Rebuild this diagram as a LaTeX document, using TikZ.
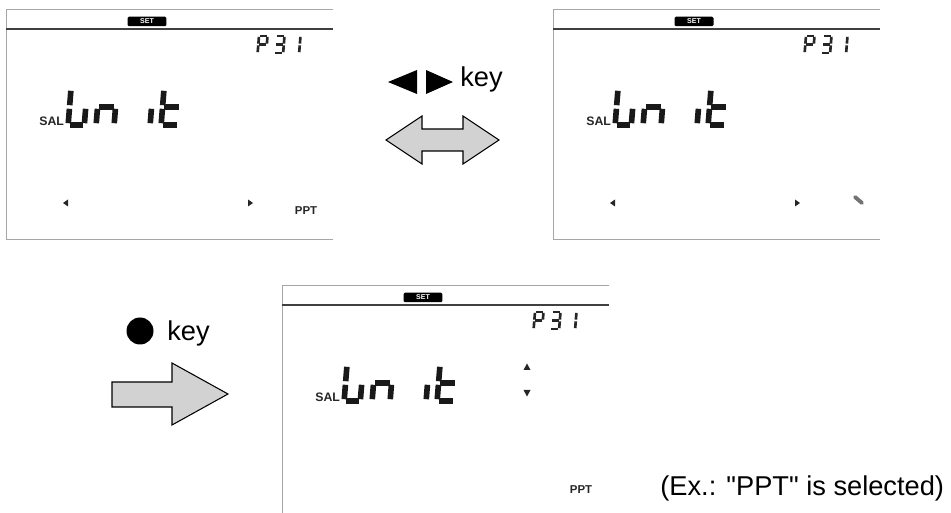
\documentclass[tikz,border=0pt]{standalone}
\usepackage{fontspec}
\setmainfont{Liberation Sans}
\usetikzlibrary{positioning}

% segments of one LCD digit, cell 10 x 20, y running down
\def\lcdSa{(1,0) -- (9,0)}
\def\lcdSb{(10,1) -- (10,9)}
\def\lcdSc{(10,11) -- (10,19)}
\def\lcdSd{(1,20) -- (9,20)}
\def\lcdSe{(0,11) -- (0,19)}
\def\lcdSf{(0,1) -- (0,9)}
\def\lcdSg{(1,10) -- (9,10)}

\newcommand{\lcddigit}[5]{%
  \begin{scope}[shift={(#1,#2)}, xslant=0.08, scale=#3]
    \foreach \s in {#4} {\draw[#5] \csname lcdS\s\endcsname;}
  \end{scope}}

% frame, SET mark, P31 and SAL Unit
\newcommand{\lcdscreen}[1]{%
  \draw[lcdframe] (0,#1) -- (0,0) -- (327,0);
  \draw[lcdbar] (0,20) -- (327,20);
  \node[setbox] (set) at (141,12.5) {SET};
  \lcddigit{253}{27}{0.85}{a,b,f,g,e}{lcdsmall}
  \lcddigit{270}{27}{0.85}{a,b,g,c,d}{lcdsmall}
  \lcddigit{286}{27}{0.85}{b,c}{lcdsmall}
  \node[lcdlabel, anchor=south west] (sal) at (33,117) {SAL};
  \lcddigit{65}{80}{1.8}{f,e,d,c}{lcdbig, xscale=0.9}
  \lcddigit{93}{80}{1.8}{g,e,c}{lcdbig}
  \lcddigit{147}{80}{1.8}{e}{lcdbig}
  \lcddigit{158}{80}{1.8}{f,e,g,d}{lcdbig}
}

\begin{document}
\begin{tikzpicture}[
    x=0.02cm, y=-0.02cm,
    lcdframe/.style={draw=gray!70, line width=0.5pt},
    lcdbar/.style={draw=black!75, line width=1.2pt},
    setbox/.style={fill=black, rounded corners=0.8pt, text=white, inner sep=0pt,
        minimum width=0.78cm, minimum height=0.19cm, font=\fontsize{4}{4}\selectfont\bfseries},
    lcdlabel/.style={inner sep=0pt, text=black!85, font=\fontsize{7}{8}\selectfont\bfseries},
    lcdbig/.style={line width=3.2pt, black!90},
    lcdsmall/.style={line width=1.5pt, black!85},
    tick/.style={fill=black!85},
    keytext/.style={inner sep=0pt, font=\fontsize{15.5}{18}\selectfont},
    blockarrow/.style={draw=black, line width=0.6pt, fill=gray!35, line join=miter}
]
\useasboundingbox (0,0) rectangle (951,513);

% screen before
\begin{scope}[shift={(6,9)}, name prefix=before-]
  \lcdscreen{230}
  \draw[lcdframe] (0,230) -- (327,230);
  \fill[tick] (57,194) -- (62,190.5) -- (62,197.5) -- cycle;
  \fill[tick] (247,194) -- (242,190.5) -- (242,197.5) -- cycle;
  \node[lcdlabel, font=\fontsize{6.5}{7}\selectfont\bfseries] (unit) at (300,202) {PPT};
\end{scope}

% screen while blinking
\begin{scope}[shift={(553,9)}, name prefix=blink-]
  \lcdscreen{230}
  \draw[lcdframe] (0,230) -- (327,230);
  \fill[tick] (57,194) -- (62,190.5) -- (62,197.5) -- cycle;
  \fill[tick] (247,194) -- (242,190.5) -- (242,197.5) -- cycle;
  \draw[line width=2.2pt, black!55, line cap=round] (302,188) -- (309,194);
\end{scope}

% screen after
\begin{scope}[shift={(282,285)}, name prefix=after-]
  \lcdscreen{228}
  \fill[tick] (245,78.5) -- (241.5,85) -- (248.5,85) -- cycle;
  \fill[tick] (245,111.5) -- (241.5,105) -- (248.5,105) -- cycle;
  \node[lcdlabel, font=\fontsize{6.5}{7}\selectfont\bfseries] (unit) at (299,205) {PPT};
\end{scope}

% left/right keys
\fill (388,82) -- (417,70) -- (417,94) -- cycle;
\fill (453,82) -- (426,70) -- (426,94) -- cycle;
\node[keytext, anchor=base west] (lrkey) at (460,87) {key};
\draw[blockarrow] (386,140) -- (422,116) -- (422,129) -- (463,129) -- (463,116)
    -- (499,140) -- (463,164) -- (463,151) -- (422,151) -- (422,164) -- cycle;

% enter key
\fill (140,331) circle[radius=13.5];
\node[keytext, anchor=base west] (okkey) at (167,341) {key};
\draw[blockarrow] (112,382) -- (172,382) -- (172,363) -- (228,394)
    -- (172,425) -- (172,407) -- (112,407) -- cycle;

\node[keytext, anchor=base west] (note) at (660,496)
    {(Ex.: \textquotedbl PPT\textquotedbl{} is selected)};
\end{tikzpicture}
\end{document}
